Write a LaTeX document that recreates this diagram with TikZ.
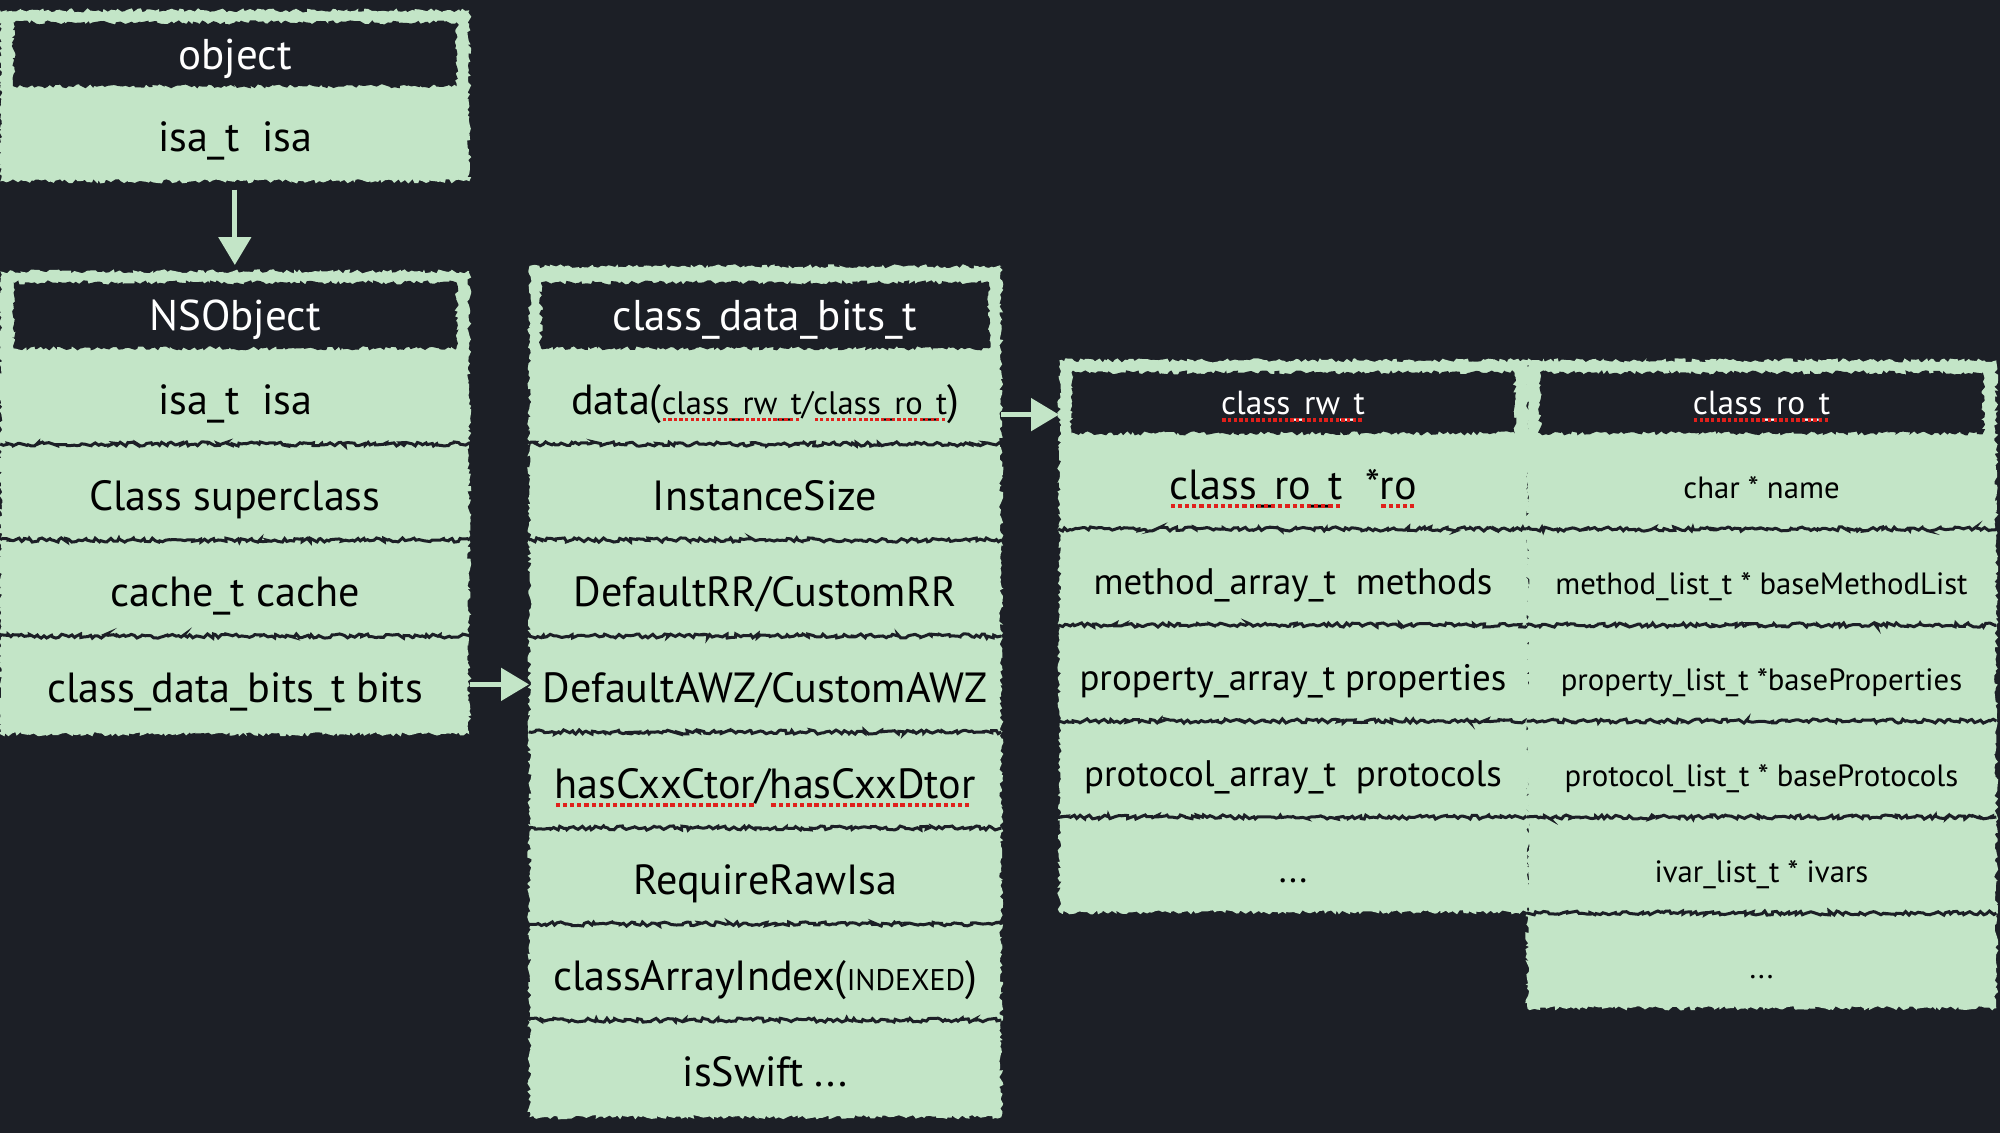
\documentclass[tikz,border=0pt]{standalone}
\usepackage{fontspec}
\setmainfont{PT Sans}
\usetikzlibrary{arrows.meta,decorations.pathmorphing}

\definecolor{chalk}{HTML}{C3E5C7}
\definecolor{slate}{HTML}{1C1F26}
\definecolor{typo}{HTML}{E0201B}
% red dotted spell-check underline
\newsavebox\splbox
\newlength\spllen
\newcommand\spl[1]{\sbox\splbox{#1}\setlength\spllen{\wd\splbox}\rlap{\usebox\splbox}%
	\textcolor{typo}{\raisebox{-0.42ex}{\hbox to \spllen{\leaders\hbox to 0.17em{\hss\rule{0.1em}{0.1em}\hss}\hfill}}}}

\begin{document}
\begin{tikzpicture}[x=0.02cm, y=-0.02cm,
	rough/.style={decorate, decoration={random steps, segment length=1.6pt, amplitude=1.2pt}},
	frame/.style={rough, fill=chalk, anchor=north west, inner sep=0pt, minimum width=9.38cm},
	bigtext/.style={font=\fontsize{24}{28}\selectfont, text height=20.5pt, text depth=0pt},
	midtext/.style={font=\fontsize{21}{25}\selectfont, text height=19.5pt, text depth=0pt},
	finetext/.style={font=\fontsize{17.5}{21}\selectfont, text height=19.5pt, text depth=0pt},
	headtext/.style={font=\fontsize{19}{23}\selectfont, text height=14pt, text depth=0.6pt},
	head/.style={rough, fill=slate, text=white, anchor=north, inner sep=0pt,
		minimum width=8.86cm, minimum height=1.32cm, font=\fontsize{24.5}{29}\selectfont,
		text height=17.6pt, text depth=0.5pt},
	field/.style={bigtext, anchor=north, inner sep=0pt, minimum width=9.38cm, minimum height=1.92cm, text=black},
	seam/.style={draw=slate, line width=0.06cm, rough},
	nextfield/.style={field, append after command={(\tikzlastnode.north west) edge[seam] (\tikzlastnode.north east)}},
	arr/.style={draw=chalk, line width=0.1cm, -{Triangle[width=0.64cm, length=0.56cm]}}]
	\pgfmathsetseed{7}
	\useasboundingbox (0,0) rectangle (2000,1133);
	\fill[slate] (0,0) rectangle (2000,1133);

	% object
	\node[frame, minimum height=3.42cm] (obj) at (0,10) {};
	\node[head, minimum height=1.28cm] (obj-head) at (235,22) {object};
	\node[field, minimum height=1.9cm] (obj-isa)  at (235,86) {isa\_t~~isa};

	% NSObject
	\node[frame, minimum height=9.26cm] (ns) at (0,271) {};
	\node[head]      (ns-head)  at (235,282) {NSObject};
	\node[field]     (ns-isa)   at (235,348) {isa\_t~~isa};
	\node[nextfield] (ns-cls)   at (235,444) {Class superclass};
	\node[nextfield] (ns-cache) at (235,540) {cache\_t cache};
	\node[nextfield] (ns-bits)  at (235,636) {class\_data\_bits\_t bits};

	% class_data_bits_t
	\node[frame, minimum width=9.44cm, minimum height=17.02cm] (dbits) at (529,266) {};
	\node[head, minimum width=8.96cm] (dbits-head)  at (765,282) {class\_data\_bits\_t};
	\node[field, minimum width=9.44cm]     (dbits-data)  at (765,348) {data({\fontsize{18.5}{22}\selectfont\spl{class\_rw\_t}/\spl{class\_ro\_t}})};
	\node[nextfield, minimum width=9.44cm] (dbits-size)  at (765,444) {InstanceSize};
	\node[nextfield, minimum width=9.44cm] (dbits-rr)    at (765,540) {DefaultRR/CustomRR};
	\node[nextfield, minimum width=9.44cm] (dbits-awz)   at (765,636) {DefaultAWZ/CustomAWZ};
	\node[nextfield, minimum width=9.44cm] (dbits-cxx)   at (765,732) {\spl{hasCxxCtor}/\spl{hasCxxDtor}};
	\node[nextfield, minimum width=9.44cm] (dbits-raw)   at (765,828) {RequireRawIsa};
	\node[nextfield, minimum width=9.44cm] (dbits-idx)   at (765,924) {classArrayIndex({\fontsize{17}{20}\selectfont INDEXED})};
	\node[nextfield, minimum width=9.44cm] (dbits-swift) at (765,1020) {isSwift ...};

	% class_rw_t
	\node[frame, minimum height=11.04cm] (rw) at (1059,360) {};
	\node[head, headtext, minimum height=1.22cm] (rw-head) at (1293,372) {\spl{class\_rw\_t}};
	\node[field]              (rw-ro)    at (1293,433) {\spl{class\_ro\_t}~~*\spl{ro}};
	\node[nextfield, midtext] (rw-meth)  at (1293,529) {method\_array\_t~~methods};
	\node[nextfield, midtext] (rw-prop)  at (1293,625) {property\_array\_t properties};
	\node[nextfield, midtext] (rw-proto) at (1293,721) {protocol\_array\_t~~protocols};
	\node[nextfield, midtext] (rw-more)  at (1293,817) {...};

	% class_ro_t
	\node[frame, minimum height=12.96cm] (ro) at (1527,360) {};
	\node[head, headtext, minimum height=1.22cm] (ro-head) at (1761.5,372) {\spl{class\_ro\_t}};
	\node[field, finetext]     (ro-name)  at (1761.5,433) {char * name};
	\node[nextfield, finetext] (ro-meth)  at (1761.5,529) {method\_list\_t * baseMethodList};
	\node[nextfield, finetext] (ro-prop)  at (1761.5,625) {property\_list\_t *baseProperties};
	\node[nextfield, finetext] (ro-proto) at (1761.5,721) {protocol\_list\_t * baseProtocols};
	\node[nextfield, finetext] (ro-ivars) at (1761.5,817) {ivar\_list\_t * ivars};
	\node[nextfield, finetext] (ro-more)  at (1761.5,913) {...};

	% links
	\draw[arr, shorten <=0.16cm, shorten >=0.12cm] (obj) -- (ns);
	\draw[arr] (ns-bits.east) -- (ns-bits.east -| dbits.west);
	\draw[arr] (dbits-data.east |- rw-head.base) -- (rw.west |- rw-head.base);
\end{tikzpicture}
\end{document}
